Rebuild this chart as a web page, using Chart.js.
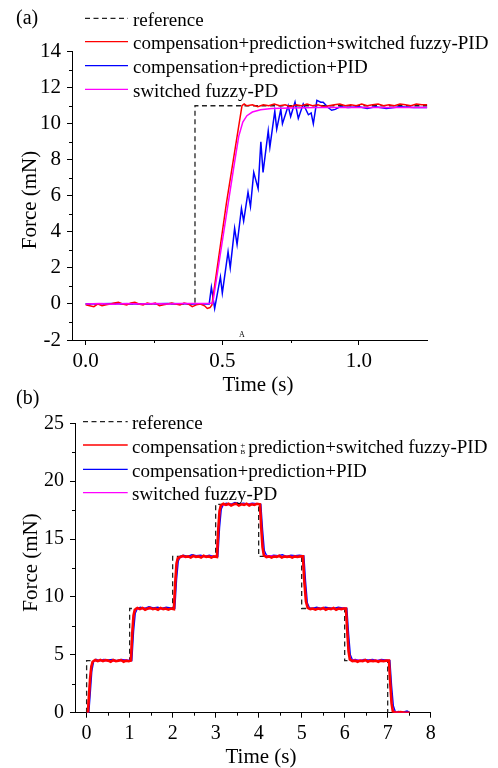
<!DOCTYPE html>
<html><head><meta charset="utf-8">
<script src="https://cdn.jsdelivr.net/npm/chart.js@4.4.0/dist/chart.umd.min.js"></script>
<style>
html,body{margin:0;padding:0;background:#fff;}
canvas{position:absolute;left:0;}
#chartA{top:0;}
#chartB{top:384px;}
</style></head><body>
<canvas id="chartA" width="498" height="400"></canvas>
<canvas id="chartB" width="498" height="384"></canvas>
<script>
// ======= Data =======
const legendLabels = ['reference','compensation+prediction+switched fuzzy-PID','compensation+prediction+PID','switched fuzzy-PD'];
const xTitle = 'Time (s)', yTitle = 'Force (mN)';

// (a) step response, [time s, force mN]
const aRef = [[0,0],[0.4,0],[0.4,11],[1.25,11]];
const aRed = [[0,-0.05],[0.015,-0.1],[0.03,-0.15],[0.045,0],[0.06,-0.1],[0.075,-0.05],[0.09,0],[0.105,0.05],[0.12,0.1],[0.135,0],
  [0.15,-0.05],[0.165,0.05],[0.18,0.1],[0.195,0],[0.21,-0.05],[0.225,0.05],[0.24,0],[0.255,0.05],[0.27,-0.1],[0.285,-0.05],
  [0.3,0],[0.315,0.05],[0.33,0],[0.345,-0.05],[0.36,0.05],[0.375,0],[0.39,-0.15],[0.405,-0.05],[0.42,0],[0.435,-0.1],
  [0.445,-0.25],[0.455,-0.2],[0.462,-0.05],[0.515,5.6],[0.572,11.0],[0.58,11.1],[0.59,11.0],[0.61,11.05],[0.63,10.95],[0.65,11.05],
  [0.67,11.0],[0.69,11.1],[0.71,11.0],[0.73,11.05],[0.75,10.95],[0.77,11.05],[0.79,11.0],[0.81,11.1],[0.83,11.0],[0.85,11.05],
  [0.87,10.95],[0.89,11.0],[0.91,11.05],[0.93,11.1],[0.95,11.0],[0.97,11.05],[0.99,11.0],[1.01,11.1],[1.03,11.0],[1.05,11.05],
  [1.07,11.1],[1.09,11.0],[1.11,11.05],[1.13,11.0],[1.15,11.1],[1.17,11.05],[1.19,11.0],[1.21,11.1],[1.23,11.05],[1.25,11.05]];
const aBlue = [[0,0],[0.1,0.02],[0.2,0],[0.3,0.02],[0.4,0],[0.452,0],[0.46,0.93],[0.472,-0.25],[0.493,1.5],[0.5,0.6],
  [0.521,2.9],[0.529,2.0],[0.545,4.2],[0.554,3.3],[0.57,5.3],[0.578,4.6],[0.594,6.2],[0.603,5.4],[0.615,7.3],[0.631,6.4],
  [0.641,9.0],[0.649,7.3],[0.668,9.6],[0.674,8.7],[0.692,10.7],[0.699,9.7],[0.714,10.8],[0.72,10.0],[0.741,11.0],[0.75,10.4],
  [0.766,11.2],[0.778,10.3],[0.796,11.1],[0.815,10.5],[0.825,10.6],[0.833,10.0],[0.846,11.3],[0.86,11.2],[0.869,11.2],[0.887,10.9],
  [0.9,10.75],[0.913,10.8],[0.932,10.95],[0.96,10.9],[1.0,10.95],[1.03,10.85],[1.06,10.95],[1.1,10.85],[1.15,10.95],[1.2,10.9],[1.25,10.9]];
const aMag = [[0,0],[0.05,0.02],[0.1,-0.02],[0.15,0.03],[0.2,0],[0.25,0.03],[0.3,0],[0.35,0.03],[0.4,0.02],[0.45,0.02],
  [0.465,0.05],[0.54,7.4],[0.56,9.3],[0.575,10.1],[0.59,10.45],[0.61,10.65],[0.64,10.78],[0.68,10.85],[0.75,10.88],[0.85,10.9],[1.0,10.9],[1.25,10.9]];

// (b) staircase, [time s, force mN]
const bRef = [[0,0],[0,4.5],[1,4.5],[1,9],[2,9],[2,13.5],[3,13.5],[3,18],[4,18],[4,13.5],[5,13.5],[5,9],[6,9],[6,4.5],[7,4.5],[7,0],[7.5,0]];
const bRed = [[0.03,0],[0.05,1.2],[0.08,2.9],[0.11,4.0],[0.14,4.4],[0.2,4.55],[0.26,4.45],[0.32,4.55],[0.38,4.45],[0.44,4.55],
  [0.5,4.5],[0.56,4.4],[0.62,4.55],[0.68,4.45],[0.74,4.5],[0.8,4.55],[0.86,4.4],[0.92,4.5],[0.98,4.45],[1.03,4.5],
  [1.06,6.8],[1.09,8.4],[1.12,8.9],[1.18,9.05],[1.24,8.95],[1.3,9.05],[1.36,8.9],[1.42,9.0],[1.48,9.05],[1.54,8.95],
  [1.6,9.0],[1.66,8.9],[1.72,9.05],[1.78,8.95],[1.84,9.0],[1.9,8.9],[1.96,9.0],[2.03,8.95],[2.06,11.2],[2.09,12.9],
  [2.12,13.35],[2.18,13.45],[2.24,13.55],[2.3,13.45],[2.36,13.5],[2.42,13.4],[2.48,13.55],[2.54,13.45],[2.6,13.5],[2.66,13.4],
  [2.72,13.55],[2.78,13.45],[2.84,13.5],[2.9,13.4],[2.96,13.5],[3.03,13.45],[3.06,15.8],[3.09,17.4],[3.12,17.9],[3.18,18.05],
  [3.24,17.95],[3.3,18.05],[3.36,17.9],[3.42,18.0],[3.48,18.05],[3.54,17.9],[3.6,18.0],[3.66,17.95],[3.72,18.05],[3.78,17.9],
  [3.84,18.0],[3.9,17.95],[3.96,18.05],[4.03,18.0],[4.06,16.0],[4.09,14.3],[4.12,13.6],[4.18,13.45],[4.24,13.5],[4.3,13.4],
  [4.36,13.5],[4.42,13.45],[4.48,13.55],[4.54,13.4],[4.6,13.5],[4.66,13.45],[4.72,13.5],[4.78,13.4],[4.84,13.5],[4.9,13.45],
  [4.96,13.5],[5.03,13.5],[5.06,11.4],[5.1,9.6],[5.14,9.05],[5.2,8.95],[5.26,9.0],[5.32,8.9],[5.38,9.0],[5.44,8.95],
  [5.5,9.05],[5.56,8.9],[5.62,9.0],[5.68,8.95],[5.74,9.05],[5.8,8.9],[5.86,9.0],[5.92,8.95],[5.98,9.0],[6.03,9.0],
  [6.06,7.0],[6.09,5.3],[6.12,4.6],[6.18,4.45],[6.24,4.5],[6.3,4.4],[6.36,4.5],[6.42,4.45],[6.48,4.55],[6.54,4.4],
  [6.6,4.5],[6.66,4.45],[6.72,4.5],[6.78,4.4],[6.84,4.5],[6.9,4.45],[6.96,4.5],[7.03,4.5],[7.06,2.5],[7.09,0.8],
  [7.12,0.1],[7.2,0],[7.3,0.05],[7.4,0],[7.52,0]];
const bBlue = [[0.05,0],[0.08,1.5],[0.12,3.6],[0.16,4.4],[0.22,4.6],[0.3,4.5],[0.4,4.6],[0.5,4.55],[0.6,4.6],[0.7,4.5],
  [0.8,4.6],[0.9,4.55],[1.0,4.5],[1.05,4.5],[1.09,7.0],[1.13,8.6],[1.18,9.0],[1.25,9.1],[1.35,9.0],[1.45,9.15],
  [1.55,9.05],[1.65,9.1],[1.75,9.0],[1.85,9.1],[1.95,9.05],[2.05,9.0],[2.09,11.5],[2.13,13.1],[2.18,13.5],[2.25,13.6],
  [2.35,13.5],[2.45,13.65],[2.55,13.55],[2.65,13.6],[2.75,13.5],[2.85,13.6],[2.95,13.5],[3.05,13.5],[3.09,16.0],[3.13,17.6],
  [3.18,18.0],[3.25,18.1],[3.35,18.0],[3.45,18.15],[3.55,18.05],[3.65,18.1],[3.75,18.0],[3.85,18.1],[3.95,18.05],[4.05,18.0],
  [4.09,15.8],[4.13,14.0],[4.18,13.6],[4.25,13.5],[4.35,13.6],[4.45,13.55],[4.55,13.65],[4.65,13.5],[4.75,13.6],[4.85,13.55],
  [4.95,13.6],[5.05,13.55],[5.09,11.3],[5.13,9.5],[5.18,9.05],[5.25,9.0],[5.35,9.1],[5.45,9.0],[5.55,9.1],[5.65,9.05],
  [5.75,9.0],[5.85,9.1],[5.95,9.05],[6.05,9.0],[6.09,6.8],[6.13,5.0],[6.18,4.55],[6.25,4.6],[6.35,4.5],[6.45,4.6],
  [6.55,4.55],[6.65,4.6],[6.75,4.5],[6.85,4.6],[6.95,4.55],[7.05,4.5],[7.09,2.3],[7.13,0.6],[7.18,0.05],[7.25,0.1],
  [7.35,0.05],[7.45,0.15],[7.5,0.05]];
const bMag = [[0.03,0],[0.06,1.8],[0.1,3.9],[0.14,4.4],[0.2,4.5],[0.4,4.5],[0.6,4.45],[0.8,4.5],[1.03,4.5],[1.06,6.9],
  [1.1,8.6],[1.15,8.95],[1.4,9.0],[1.7,8.95],[2.03,9.0],[2.06,11.3],[2.1,13.1],[2.15,13.45],[2.5,13.5],[3.03,13.5],
  [3.06,15.9],[3.1,17.6],[3.15,17.95],[3.5,18.0],[4.03,18.0],[4.06,15.9],[4.1,14.0],[4.15,13.55],[4.5,13.5],[5.03,13.5],
  [5.06,11.3],[5.11,9.4],[5.16,9.0],[5.5,8.95],[6.03,9.0],[6.06,6.9],[6.1,5.0],[6.15,4.55],[6.5,4.5],[7.03,4.5],
  [7.06,2.4],[7.1,0.5],[7.15,0.05],[7.5,0]];

// ticks
const aXMajor = [0,0.5,1.0], aXMinor = [0.25,0.75];
const aYMajor = [-2,0,2,4,6,8,10,12,14], aYMinor = [-1,1,3,5,7,9,11,13];
const bXMajor = [0,1,2,3,4,5,6,7,8], bXMinor = [0.5,1.5,2.5,3.5,4.5,5.5,6.5,7.5];
const bYMajor = [0,5,10,15,20,25], bYMinor = [2.5,7.5,12.5,17.5,22.5];

// ======= Helpers =======
const SERIF = "'Liberation Serif','Times New Roman',serif";
const COLORS = ['#222','#ff0000','#0000ff','#ff00ff'];
const pts = arr => arr.map(([x,y]) => ({x,y}));
function ds(arr,i,w){
  return {data:pts(arr),borderColor:COLORS[i],borderWidth:w,borderDash:i===0?[5,3.5]:[],pointRadius:0,tension:0,fill:false};
}

// legend, titles, minor ticks, panel letter
function decor(c){
  return {id:'decor',afterDraw(chart){
    const ctx=chart.ctx, sx=chart.scales.x, sy=chart.scales.y;
    ctx.save();
    ctx.strokeStyle='#000';ctx.lineWidth=1;
    ctx.beginPath();
    for(const v of c.xMinor){const p=Math.round(sx.getPixelForValue(v))+0.5;ctx.moveTo(p,sx.top);ctx.lineTo(p,sx.top+3);}
    for(const v of c.yMinor){const p=Math.round(sy.getPixelForValue(v))+0.5;ctx.moveTo(sy.right,p);ctx.lineTo(sy.right-3,p);}
    ctx.stroke();
    ctx.fillStyle='#000';
    ctx.font='21px '+SERIF;ctx.textAlign='center';ctx.textBaseline='alphabetic';
    ctx.fillText(xTitle,c.xTitleX,c.xTitleY);
    ctx.save();ctx.translate(c.yTitleX,c.yTitleY);ctx.rotate(-Math.PI/2);ctx.fillText(yTitle,0,0);ctx.restore();
    ctx.textAlign='left';ctx.font='20px '+SERIF;
    ctx.fillText(c.letter,16,c.letterY);
    // legend
    ctx.font='19px '+SERIF;
    legendLabels.forEach((lab,i)=>{
      const y=c.legY[i];
      ctx.strokeStyle=COLORS[i];ctx.lineWidth=1.3;ctx.setLineDash(i===0?[5,3.5]:[]);
      ctx.beginPath();ctx.moveTo(c.legX1,y);ctx.lineTo(c.legX2,y);ctx.stroke();
      ctx.setLineDash([]);
      if(c.glitch && i===1){
        const head='compensation', tail=lab.slice(head.length+1);
        ctx.fillText(head,c.legTX,y+7.5);
        let x=c.legTX+ctx.measureText(head).width;
        const pw=ctx.measureText('+').width;
        ctx.font='9px '+SERIF;ctx.textAlign='center';
        ctx.fillText('+',x+pw/2,y+3);
        ctx.font='7px '+SERIF;ctx.fillText('B',x+pw/2,y+9);
        ctx.font='19px '+SERIF;ctx.textAlign='left';
        ctx.fillText(tail,x+pw,y+7.5);
      }else ctx.fillText(lab,c.legTX,y+7.5);
    });
    if(c.note){ctx.font='8px '+SERIF;ctx.textAlign='center';ctx.fillText(c.note.t,c.note.x,c.note.y);}
    ctx.restore();
  }};
}

function makeChart(id,c){
  const tickFont={family:SERIF,size:c.tickSize};
  return new Chart(document.getElementById(id),{
    type:'line',
    data:{datasets:c.datasets},
    options:{
      responsive:false,animation:false,
      layout:{padding:{top:c.padTop,right:c.padRight,left:0,bottom:0}},
      plugins:{legend:{display:false},tooltip:{enabled:false}},
      scales:{
        x:{type:'linear',min:c.xMin,max:c.xMax,
          afterFit:s=>{s.height=c.xAxisH;},
          afterBuildTicks:s=>{s.ticks=c.xMajor.map(v=>({value:v}));},
          grid:{drawOnChartArea:false,tickLength:5,color:'#000'},
          border:{color:'#000',width:1},
          ticks:{font:tickFont,color:'#000',padding:c.xPad,maxRotation:0,autoSkip:false,callback:c.xLabel}},
        y:{type:'linear',min:c.yMin,max:c.yMax,
          afterFit:s=>{s.width=c.yAxisW;},
          afterBuildTicks:s=>{s.ticks=c.yMajor.map(v=>({value:v}));},
          grid:{drawOnChartArea:false,tickLength:5,color:'#000'},
          border:{color:'#000',width:1},
          ticks:{font:tickFont,color:'#000',padding:c.yPad,autoSkip:false,callback:v=>String(v)}}
      }
    },
    plugins:[decor(c)]
  });
}

// ======= Charts =======
makeChart('chartA',{
  datasets:[ds(aMag,3,1.5),ds(aRed,1,1.5),ds(aBlue,2,1.5),ds(aRef,0,1.3)],
  xMin:-0.05,xMax:1.25,yMin:-2,yMax:14,
  xMajor:aXMajor,xMinor:aXMinor,yMajor:aYMajor,yMinor:aYMinor,
  xLabel:v=>v.toFixed(1),
  padTop:51.7,padRight:70.7,xAxisH:60,yAxisW:72,tickSize:21,xPad:4,yPad:6,
  xTitleX:258,xTitleY:391,yTitleX:36,yTitleY:200,
  letter:'(a)',letterY:24,
  legX1:85,legX2:128,legTX:133,legY:[18.3,41.7,65.7,89.3],
  note:{t:'A',x:242,y:337}
});

makeChart('chartB',{
  datasets:[ds(bRed,1,2.6),ds(bMag,3,1.5),ds(bBlue,2,1.5),ds(bRef,0,1.3)],
  xMin:-0.27,xMax:8,yMin:0,yMax:25,
  xMajor:bXMajor,xMinor:bXMinor,yMajor:bYMajor,yMinor:bYMinor,
  xLabel:v=>String(v),
  padTop:39.3,padRight:67.3,xAxisH:55.3,yAxisW:75,tickSize:20,xPad:4,yPad:6,
  xTitleX:261,xTitleY:379,yTitleX:37,yTitleY:178.5,
  letter:'(b)',letterY:20,glitch:true,
  legX1:83,legX2:127.7,legTX:132,legY:[37.7,61,85.3,108.7]
});
</script>
</body></html>
